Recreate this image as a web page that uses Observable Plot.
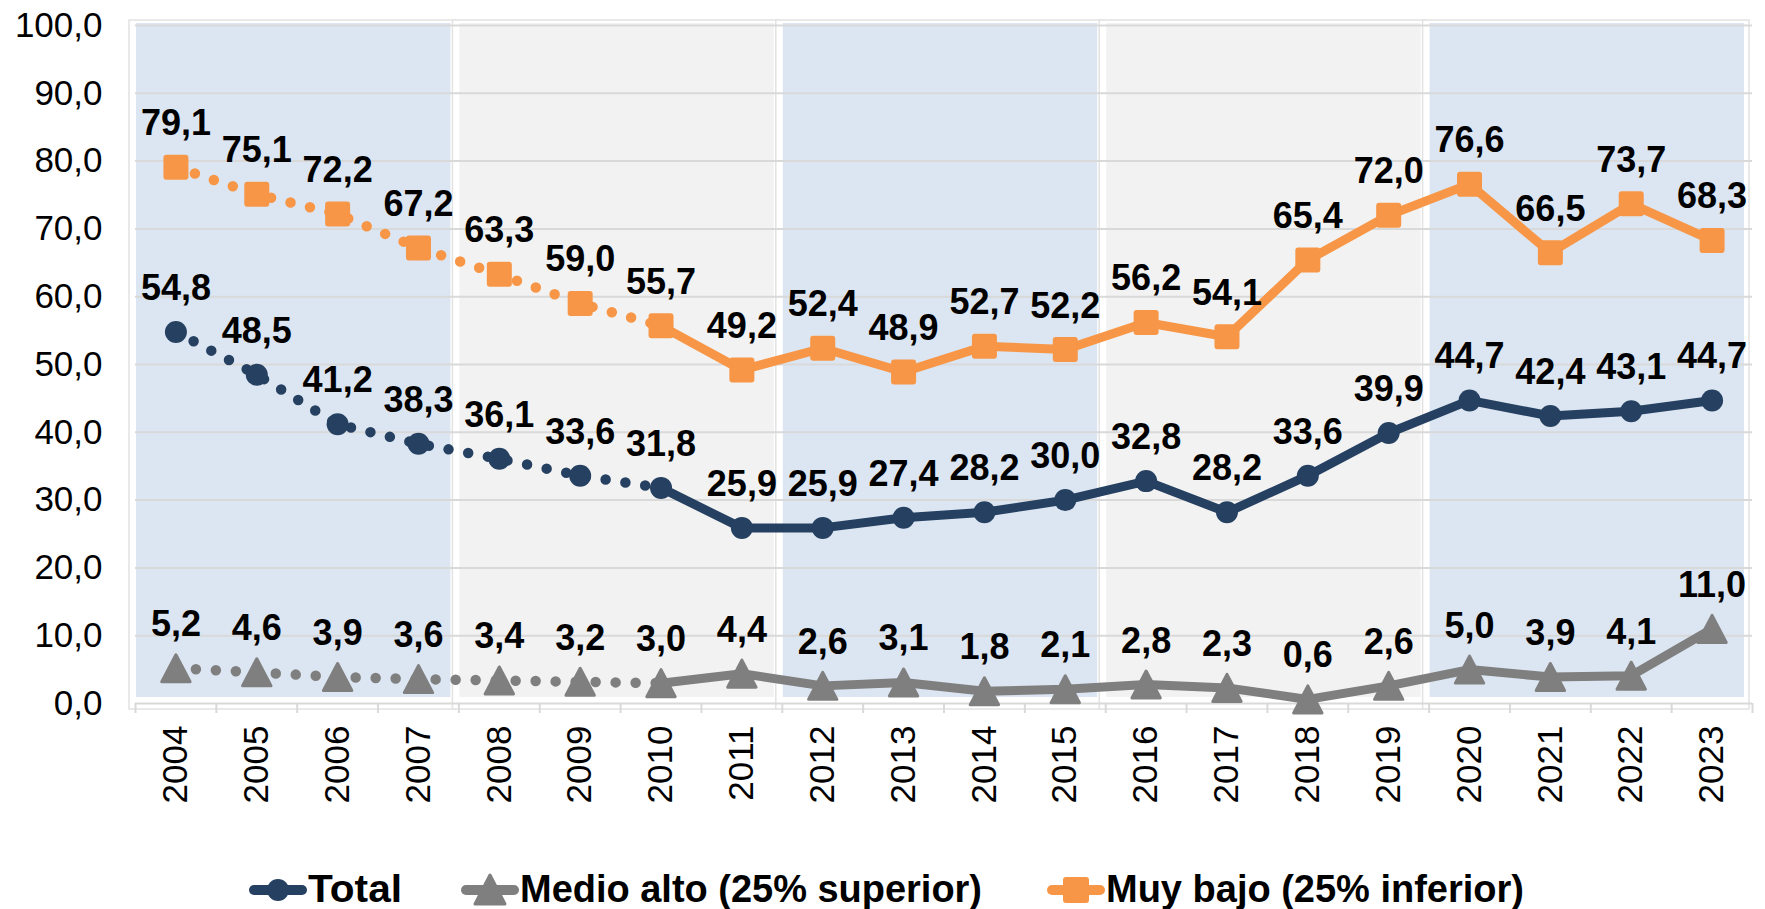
<!DOCTYPE html>
<html><head><meta charset="utf-8">
<script src="https://cdn.jsdelivr.net/npm/d3@7"></script>
<script src="https://cdn.jsdelivr.net/npm/@observablehq/plot@0.6"></script>
<style>
body{margin:0;background:#fff;}
#chart svg{display:block}
</style>
</head><body><div id="chart"></div>
<script>
// ---- data ----
const years = [2004,2005,2006,2007,2008,2009,2010,2011,2012,2013,2014,2015,2016,2017,2018,2019,2020,2021,2022,2023];
const total     = [54.8,48.5,41.2,38.3,36.1,33.6,31.8,25.9,25.9,27.4,28.2,30.0,32.8,28.2,33.6,39.9,44.7,42.4,43.1,44.7];
const medioAlto = [5.2,4.6,3.9,3.6,3.4,3.2,3.0,4.4,2.6,3.1,1.8,2.1,2.8,2.3,0.6,2.6,5.0,3.9,4.1,11.0];
const muyBajo   = [79.1,75.1,72.2,67.2,63.3,59.0,55.7,49.2,52.4,48.9,52.7,52.2,56.2,54.1,65.4,72.0,76.6,66.5,73.7,68.3];
const seriesNames = ["Total", "Medio alto (25% superior)", "Muy bajo (25% inferior)"];
const seriesColors = ["#254061", "#7f7f7f", "#f79646"];
const yTicks = [0,10,20,30,40,50,60,70,80,90,100];
const bandStarts = [2004, 2008, 2012, 2016, 2020];
const bandEnds   = [2007, 2011, 2015, 2019, 2023];
const bandKinds  = ["blue", "gray", "blue", "gray", "blue"];
const dottedUntil = 2010;

// ---- build tables ----
const seriesValues = [total, medioAlto, muyBajo];
const rows = [];
seriesNames.forEach((s, i) => years.forEach((yr, j) => rows.push({series: s, year: yr, value: seriesValues[i][j]})));
const bands = bandStarts.map((s, i) => ({x1: s - 0.5, x2: bandEnds[i] + 0.5, kind: bandKinds[i]}));
const boundaries = [years[0] - 0.5, ...years.map(y => y + 0.5)];
const fmt = v => v.toFixed(1).replace(".", ",");

// ---- symbols ----
const sq = {draw(ctx, size) {
  const s = Math.sqrt(size / Math.PI), c = 3;
  ctx.moveTo(-s + c, -s); ctx.lineTo(s - c, -s); ctx.arcTo(s, -s, s, -s + c, c);
  ctx.lineTo(s, s - c); ctx.arcTo(s, s, s - c, s, c);
  ctx.lineTo(-s + c, s); ctx.arcTo(-s, s, -s, s - c, c);
  ctx.lineTo(-s, -s + c); ctx.arcTo(-s, -s, -s + c, -s, c); ctx.closePath();
}};
const tri = {draw(ctx, size) {
  const r = Math.sqrt(size / Math.PI);
  ctx.moveTo(0, -r); ctx.lineTo(r * 1.05, r); ctx.lineTo(-r * 1.05, r); ctx.closePath();
}};

const W = 1765, H = 845;
const color = {domain: seriesNames, range: seriesColors};

const chart = Plot.plot({
  width: W, height: H,
  marginLeft: 135, marginRight: 13, marginTop: 25, marginBottom: H - 703,
  style: {fontFamily: "'Liberation Sans', Arial, sans-serif", fontSize: "35px", color: "#000", background: "#fff", overflow: "visible"},
  x: {domain: [boundaries[0], boundaries[boundaries.length - 1]], axis: null},
  y: {domain: [0, 100], axis: null},
  color,
  marks: [
    // band panels (shadow + fill)
    Plot.rect(bands, {x1: "x1", x2: "x2", y1: 0, y2: 100, fill: "#fff", stroke: "#e2e2e2", strokeWidth: 1.5,
      insetLeft: -6, insetRight: 3, insetTop: -5, insetBottom: -6}),
    Plot.rect(bands, {x1: "x1", x2: "x2", y1: 0, y2: 100, fill: d => d.kind === "blue" ? "#dce6f2" : "#f2f2f2",
      insetLeft: 1, insetRight: 8, insetTop: -2, insetBottom: 6}),
    // gridlines
    Plot.ruleY(yTicks, {stroke: "#d9d9d9", strokeWidth: 2}),
    // boundary ticks
    Plot.axisX(boundaries, {tickSize: 10, tickFormat: () => "", stroke: "#d9d9d9", strokeWidth: 2, label: null}),
    // year labels
    Plot.axisX(years, {tickSize: 0, tickPadding: 22, tickRotate: -90, tickFormat: d => String(d), label: null, fontSize: 35, fill: "#000"}),
    // y labels
    Plot.axisY(yTicks, {tickSize: 0, tickPadding: 33, tickFormat: fmt, label: null, fontSize: 35, fill: "#000"}),
    // dotted part
    Plot.line(rows.filter(d => d.year <= dottedUntil), {x: "year", y: "value", z: "series", stroke: "series",
      strokeWidth: 10.5, strokeDasharray: "0 20", strokeLinecap: "round"}),
    // solid part
    Plot.line(rows.filter(d => d.year >= dottedUntil), {x: "year", y: "value", z: "series", stroke: "series",
      strokeWidth: 9, strokeLinejoin: "round", strokeLinecap: "round"}),
    // markers
    Plot.dot(rows.filter(d => d.series === seriesNames[0]), {x: "year", y: "value", fill: "series", symbol: "circle", r: 11}),
    Plot.dot(rows.filter(d => d.series === seriesNames[1]), {x: "year", y: "value", fill: "series", stroke: "series", strokeWidth: 3, strokeLinejoin: "round", symbol: tri, r: 13.5}),
    Plot.dot(rows.filter(d => d.series === seriesNames[2]), {x: "year", y: "value", fill: "series", symbol: sq, r: 12.5}),
    // value labels
    Plot.text(rows, {x: "year", y: "value", text: d => fmt(d.value), dy: -32, lineAnchor: "bottom",
      fontSize: 36, fontWeight: "bold", fill: "#000"})
  ]
});
document.getElementById("chart").appendChild(chart);

// ---- legend ----
const LH = 909 - H;
const legend = d3.create("svg").attr("width", W).attr("height", LH).style("display", "block");
const legendLineX = [249, 461, 1047];
const legendTextW = [94, 462, 418];
const cy = 45;
seriesNames.forEach((s, i) => {
  const x0 = legendLineX[i], x1 = x0 + 58, xm = (x0 + x1) / 2;
  const g = legend.append("g");
  g.append("line").attr("x1", x0 + 5).attr("x2", x1 - 5).attr("y1", cy).attr("y2", cy)
    .attr("stroke", seriesColors[i]).attr("stroke-width", 10).attr("stroke-linecap", "round");
  if (i === 0) g.append("circle").attr("cx", xm).attr("cy", cy).attr("r", 11).attr("fill", seriesColors[i]);
  if (i === 1) g.append("path").attr("d", `M${xm},${cy - 15}L${xm + 15},${cy + 14}L${xm - 15},${cy + 14}Z`)
    .attr("fill", seriesColors[i]).attr("stroke", seriesColors[i]).attr("stroke-width", 3).attr("stroke-linejoin", "round");
  if (i === 2) g.append("rect").attr("x", xm - 13).attr("y", cy - 13).attr("width", 26).attr("height", 26).attr("rx", 3)
    .attr("fill", seriesColors[i]);
  g.append("text").attr("x", x1 + 1).attr("y", cy + 12).text(s)
    .attr("font-family", "'Liberation Sans Narrow', 'Liberation Sans', Arial, sans-serif")
    .attr("font-weight", "bold").attr("font-size", 38)
    .attr("textLength", legendTextW[i]).attr("lengthAdjust", "spacingAndGlyphs").attr("fill", "#000");
});
document.getElementById("chart").appendChild(legend.node());
</script>
</body></html>
